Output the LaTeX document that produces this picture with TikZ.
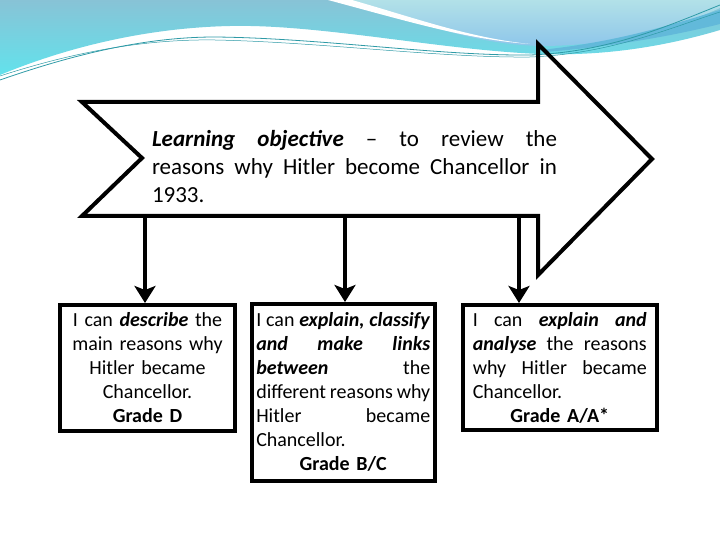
\documentclass[tikz,border=0pt]{standalone}
\usepackage{fontspec}
\setmainfont{Carlito}
\usetikzlibrary{arrows.meta}
\definecolor{bgblue}{HTML}{88C3D6}
\definecolor{bgcyan}{HTML}{62E2EC}
\definecolor{palecyan}{HTML}{B2E1E8}
\definecolor{palebot}{HTML}{8EC6EA}
\definecolor{lineteal}{HTML}{2E9AA6}
\definecolor{bandblue}{HTML}{62B9DA}
\newcommand{\jl}[2]{\makebox[#1][s]{\spaceskip=0.226em plus 1fil minus 0.15em\relax #2}}
\newcommand{\bi}[1]{\textbf{\textit{#1}}}
\begin{document}
\begin{tikzpicture}[x=1pt,y=-1pt,
  box/.style={draw, line width=4pt, rectangle, inner sep=0pt, align=center,
    font=\fontsize{20}{24}\selectfont},
  conn/.style={line width=4pt, -{Stealth[length=17pt,width=21pt,inset=4pt]}},
  bigarrow/.style={line width=4pt, line join=miter},
  wave/.style={line width=0.8pt, draw=lineteal}]
\useasboundingbox (0,0) rectangle (720,540);
% background decoration
\shade[top color=bgblue, bottom color=bgcyan]
  (0,0) -- (720,0) -- (720,30) .. controls (660,48) and (600,56) .. (540,54)
  .. controls (440,50) and (320,24) .. (230,26)
  .. controls (140,28) and (60,50) .. (0,75) -- cycle;
\shade[top color=palecyan, bottom color=palebot]
  (350,0) -- (720,0) -- (720,8) .. controls (660,35) and (600,46) .. (540,46)
  .. controls (470,44) and (420,22) .. (350,0) -- cycle;
\fill[white] (328,0) .. controls (410,22) and (470,40) .. (530,44)
  .. controls (470,38) and (415,18) .. (352,0) -- cycle;
\fill[bandblue] (540,50) .. controls (620,42) and (680,22) .. (720,10)
  -- (720,24) .. controls (680,34) and (620,46) .. (545,52) -- cycle;
\draw[wave] (0,80) .. controls (80,52) and (150,37) .. (215,37)
  .. controls (320,38) and (440,56) .. (530,55)
  .. controls (610,52) and (670,25) .. (720,5);
\draw[wave, line width=0.5pt] (0,76) .. controls (80,50) and (150,39) .. (215,40)
  .. controls (320,42) and (440,58) .. (530,57)
  .. controls (610,54) and (670,28) .. (720,12);
% big arrow
\draw[bigarrow] (82,102) -- (538,102) -- (538,44) -- (652,159) -- (538,275)
  -- (538,216) -- (82,216) -- (142,158) -- cycle;
\node[font=\fontsize{23}{28}\selectfont, text width=405pt, align=center, inner sep=0pt]
  (title) at (354.5,167) {%
  \jl{405pt}{\bi{Learning objective} – to review the}\\
  \jl{405pt}{reasons why Hitler become Chancellor in}\\
  \makebox[405pt][l]{1933.}};
% boxes
\node[box, minimum width=175pt, minimum height=126pt, text width=172pt]
  (b1) at (147.5,368) {I can \bi{describe} the\\ main reasons why\\ Hitler became\\ Chancellor.\\ \textbf{Grade D}};
\node[box, minimum width=182.5pt, minimum height=176.5pt, text width=174pt]
  (b2) at (343.25,392.25) {%
  \jl{174pt}{I can \bi{explain, classify}}\\
  \jl{174pt}{\bi{and make links}}\\
  \jl{174pt}{\bi{between} the}\\
  \jl{174pt}{different reasons why}\\
  \jl{174pt}{Hitler became}\\
  \makebox[174pt][l]{Chancellor.}\\
  \textbf{Grade B/C}};
\node[box, minimum width=194.5pt, minimum height=125pt, text width=174pt]
  (b3) at (559.75,367.5) {%
  \jl{174pt}{I can \bi{explain and}}\\
  \jl{174pt}{\bi{analyse} the reasons}\\
  \jl{174pt}{why Hitler became}\\
  \makebox[174pt][l]{Chancellor.}\\
  \textbf{Grade A/A*}};
% connectors
\coordinate (s1) at (145,216);
\coordinate (s2) at (345,216);
\coordinate (s3) at (519,216);
\draw[conn] (s1) -- (s1 |- b1.north);
\draw[conn] (s2) -- (s2 |- b2.north);
\draw[conn] (s3) -- (s3 |- b3.north);
\end{tikzpicture}
\end{document}
